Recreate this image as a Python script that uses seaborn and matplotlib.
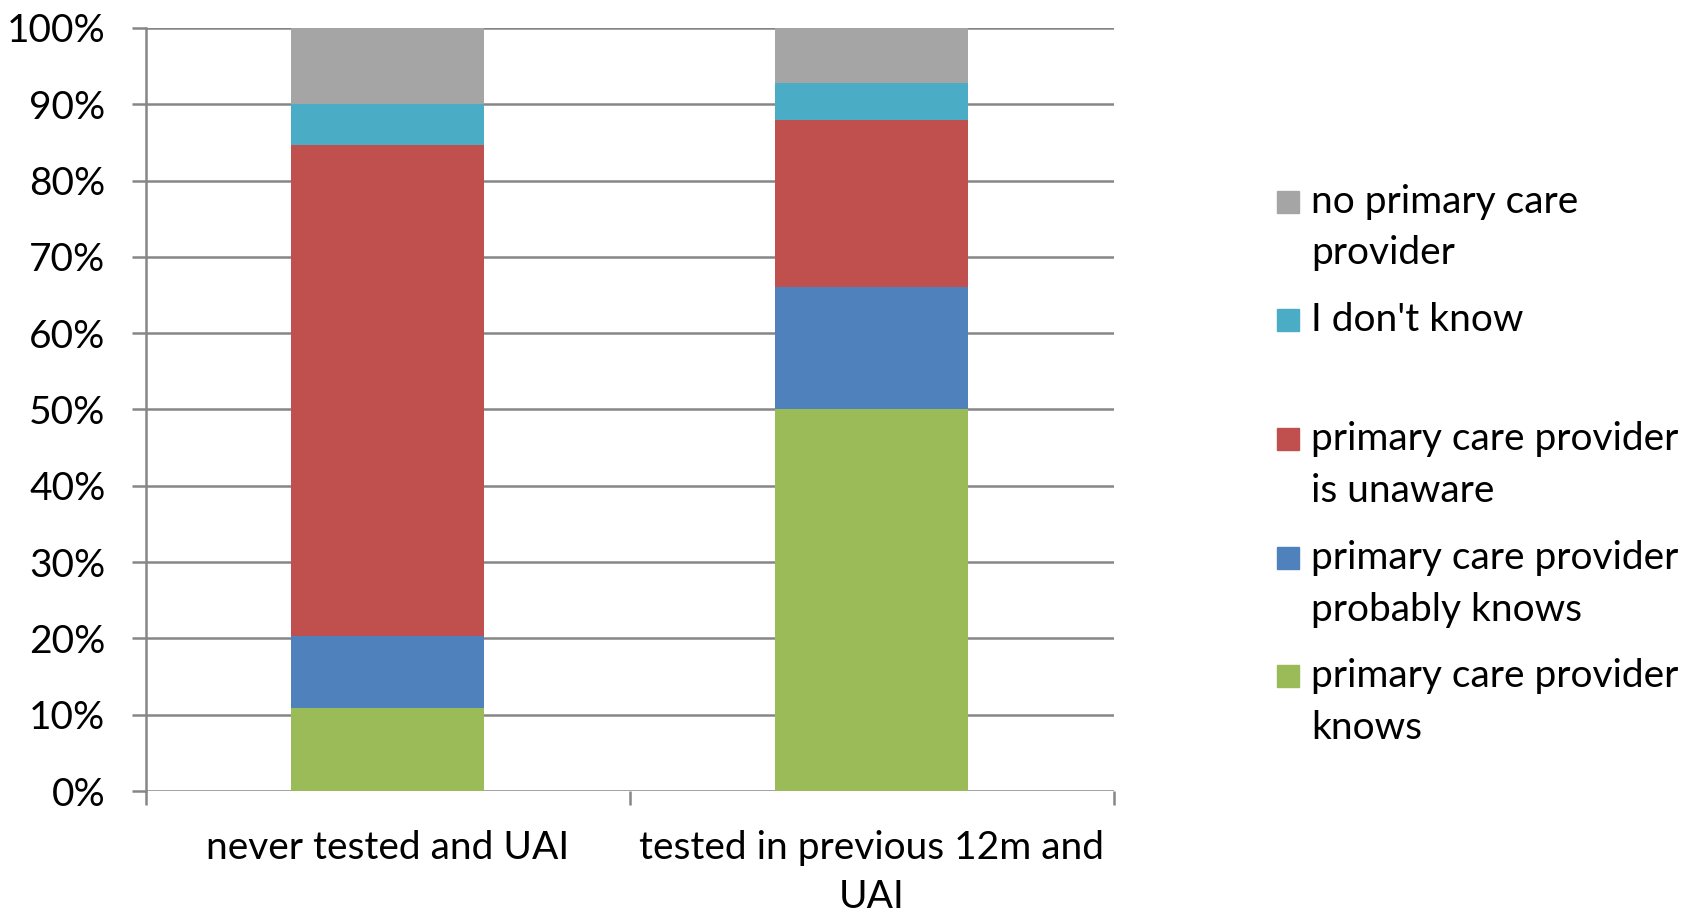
import matplotlib
matplotlib.use("Agg")
import matplotlib.pyplot as plt
from matplotlib.patches import Rectangle
import numpy as np
import pandas as pd
import seaborn as sns

# Survey groups (x categories)
groups = ["never tested and UAI", "tested in previous 12m and\nUAI"]

# Share of respondents per answer, in percent (stack order bottom -> top)
pcp_knows = [10.9, 50.0]
pcp_probably_knows = [9.4, 16.1]
pcp_unaware = [64.4, 21.9]
dont_know = [5.4, 4.8]
no_pcp = [9.9, 7.2]

series_names = [
    "primary care provider knows",
    "primary care provider probably knows",
    "primary care provider is unaware",
    "I don't know",
    "no primary care provider",
]
series_values = [pcp_knows, pcp_probably_knows, pcp_unaware, dont_know, no_pcp]
series_colors = ["#9BBB59", "#4F81BD", "#C0504D", "#4BACC6", "#A5A5A5"]

# Legend rows as they wrap on screen (top entry first)
legend_rows = [
    ["no primary care", "provider"],
    ["I don't know"],
    ["primary care provider", "is unaware"],
    ["primary care provider", "probably knows"],
    ["primary care provider", "knows"],
]
legend_colors = series_colors[::-1]

sns.set_theme(style="white")
plt.rcParams["font.family"] = ["Lato", "DejaVu Sans"]

FS = 28
W, H, DPI = 1692, 913, 100
fig = plt.figure(figsize=(W / DPI, H / DPI), dpi=DPI)
ax = fig.add_axes([145.7 / W, 1 - 791 / H, (1113.6 - 145.7) / W, (791 - 28) / H])

df = pd.DataFrame({"group": groups})
for name, vals in zip(series_names, series_values):
    df[name] = vals
cum = df[series_names].cumsum(axis=1)

# Stacked bars: draw cumulative totals from the top layer down
for name, color in reversed(list(zip(series_names, series_colors))):
    sns.barplot(x=df["group"], y=cum[name], color=color, width=0.4,
                saturation=1, ax=ax, order=groups, zorder=2,
                linewidth=0, edgecolor="none")

grid_c = "#868686"
ax.set_ylim(0, 100)
ax.set_xlim(-0.5, 1.5)
ax.set_yticks(np.arange(0, 101, 10))
ax.set_yticklabels([f"{v}%" for v in range(0, 101, 10)])
ax.yaxis.grid(True, color=grid_c, linewidth=1.8, zorder=0)
ax.set_axisbelow(True)
ax.set_xlabel("")
ax.set_ylabel("")

for side in ["top", "right", "bottom"]:
    ax.spines[side].set_visible(False)
ax.spines["left"].set_color(grid_c)
ax.spines["left"].set_linewidth(1.8)

ax.tick_params(axis="y", which="major", direction="out", length=10, width=1.8,
               color=grid_c, left=True, pad=19, labelsize=FS, labelcolor="black")
ax.set_xticks([0, 1])
ax.set_xticklabels(groups, fontsize=FS, color="black", linespacing=1.45)
ax.set_xticks([-0.5, 0.5, 1.5], minor=True)
ax.tick_params(axis="x", which="major", length=0, pad=28)
ax.tick_params(axis="x", which="minor", direction="out", length=10, width=1.8,
               color=grid_c, bottom=True)

# Legend drawn on the figure, one square per entry with wrapped labels
sq_x, sq_w = 1277, 22
txt_x = 1311
line_h = 51.8
entry_h = 118.7
base0 = 212.6
for i, (rows, color) in enumerate(zip(legend_rows, legend_colors)):
    b = base0 + i * entry_h
    fig.patches.append(Rectangle((sq_x / W, 1 - b / H), sq_w / W, sq_w / H,
                                 transform=fig.transFigure, color=color))
    for j, line in enumerate(rows):
        fig.text(txt_x / W, 1 - (b + j * line_h) / H, line, fontsize=FS,
                 va="baseline", ha="left", color="black")

fig.savefig("out.png", dpi=DPI, facecolor="white")
